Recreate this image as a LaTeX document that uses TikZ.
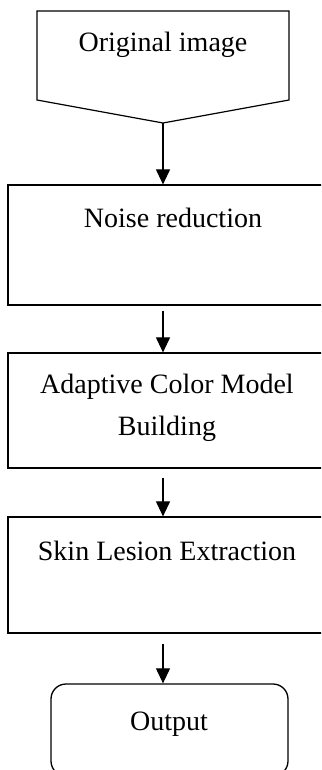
\documentclass[tikz,border=0pt]{standalone}
\usepackage{fontspec}
\setmainfont{Liberation Serif}
\usetikzlibrary{arrows.meta}
\begin{document}
\begin{tikzpicture}[x=1pt,y=-1pt,
  box/.style={draw, rectangle, line width=1.2pt, inner sep=0pt},
  term/.style={draw, rectangle, rounded corners=15pt, line width=1.3pt, inner sep=0pt},
  txt/.style={anchor=base, inner sep=0pt, font=\fontsize{28}{42}\selectfont},
  flow/.style={line width=1.1pt, -{Triangle[length=15pt,width=14pt]}}]
\useasboundingbox (0,0) rectangle (321,770);
\clip (0,0) rectangle (321,770);
% start shape (pentagon pointing down)
\draw[line width=1.2pt, line join=miter] (37,11) -- (289,11) -- (289,100) -- (163,123) -- (37,100) -- cycle;
\coordinate (origtip) at (163,123);
\node[txt] (torig) at (163,52) {Original image};
% boxes
\node[box, minimum width=322pt, minimum height=120pt] (noise) at (169,245) {};
\node[txt] (tnoise) at (173,227) {Noise reduction};
\node[box, minimum width=322pt, minimum height=115pt] (adapt) at (169,410.5) {};
\node[txt, align=center] (tadapt) at (167,435) {Adaptive Color Model\\Building};
\node[box, minimum width=322pt, minimum height=116pt] (skin) at (169,575) {};
\node[txt] (tskin) at (167,560) {Skin Lesion Extraction};
\node[term, minimum width=237pt, minimum height=92pt] (out) at (169.5,730) {};
\node[txt] (tout) at (169,730) {Output};
% connectors
\draw[flow] (origtip) -- (origtip |- noise.north);
\coordinate (a2) at ([yshift=-5pt]noise.south -| origtip);
\draw[flow] (a2) -- (a2 |- adapt.north);
\coordinate (a3) at ([yshift=-9pt]adapt.south -| origtip);
\draw[flow] (a3) -- (a3 |- skin.north);
\coordinate (a4) at ([yshift=-10pt]skin.south -| origtip);
\draw[flow] (a4) -- (a4 |- out.north);
\end{tikzpicture}
\end{document}
